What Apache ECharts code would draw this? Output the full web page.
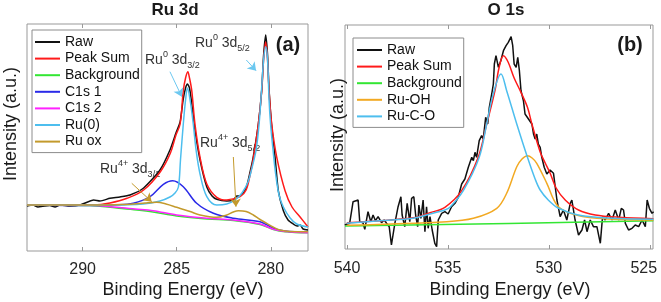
<!DOCTYPE html>
<html>
<head>
<meta charset="utf-8">
<script src="https://cdn.jsdelivr.net/npm/echarts@6/dist/echarts.min.js"></script>
<style>
  html, body { margin: 0; padding: 0; background: #fff; }
  #chart { width: 661px; height: 302px; }
</style>
</head>
<body>
<div id="chart"></div>
<script>
// Ru 3d panel, [binding energy (eV), intensity (a.u.)]
var ruRaw = [[292.96,45],[292.64,46],[292.38,44],[292.01,45],[291.74,45.5],[291.47,44],[291.21,46],[290.68,45],[290.14,46],
  [289.41,51],[289.08,50],[288.55,52.7],[288.02,54],[287.48,56],[286.76,63],[285.89,81],[285.36,101],[285.04,118],
  [284.82,129],[284.66,151],[284.53,163],[284.43,167],[284.32,163],[284.19,146],[284.03,121],[283.76,91],[283.40,64],
  [283.12,55],[282.87,51.7],[282.34,50],[281.99,51],[281.81,55],[281.63,55],[281.31,63],[281.10,79],[280.94,93],
  [280.66,127],[280.48,161],[280.38,196],[280.27,216],[280.17,196],[280.09,161],[279.96,127],[279.77,93.7],
  [279.60,60.3],[279.33,40.3],[279.08,31],[278.80,27],[278.60,25],[278.44,26],[278.28,22],[278.02,21]];
var ruPeakSum = [[292.96,46],[289.41,46],[288.55,48],[287.64,52.7],[286.76,61],[285.87,79.3],[285.34,97.7],[285.04,116],
  [284.82,127],[284.65,160.3],[284.53,173],[284.41,179.3],[284.32,173],[284.20,160.3],[284.03,127],[283.76,93.7],
  [283.40,67],[282.87,53.7],[282.34,51],[281.63,54.3],[281.31,61],[281.10,76],[280.94,91],[280.66,127],[280.48,160.3],
  [280.38,191],[280.27,209],[280.17,191],[280.09,160.3],[279.95,127],[279.68,93.7],[279.24,60.3],[278.87,44],
  [278.44,34],[278.02,24]];
var ruBackground = [[292.96,46],[289.61,45.5],[288.19,43],[287.11,41],[286.26,39],[285.00,35],[283.40,32],[281.99,30.5],
  [280.57,26.5],[279.86,21.5],[279.24,19.3],[278.02,18.2]];
var ruC1s1 = [[292.96,46],[289.41,45.5],[288.28,46],[287.31,47.7],[286.42,54.3],[285.71,66.7],[285.21,70.3],[284.65,64.3],
  [283.94,47.7],[283.05,37.7],[281.99,32.7],[280.57,29.3],[279.86,22.7],[279.24,20],[278.02,19]];
var ruC1s2 = [[292.96,46],[289.61,45.7],[288.19,43.7],[287.22,42],[286.26,40.3],[285.00,36],[283.40,32.7],[281.99,31],
  [280.57,27],[279.86,21.7],[279.24,19.5],[278.02,18.3]];
var ruMetal = [[292.96,46],[288.55,46],[286.79,47],[285.89,50],[285.36,54],[285.09,58],[284.91,64],[284.80,91],[284.65,127],
  [284.53,151],[284.43,163],[284.29,151],[284.12,127],[283.97,101],[283.76,77],[283.40,54.3],[282.87,46],[282.34,47],
  [281.90,51],[281.53,58],[281.21,69],[281.00,83],[280.78,101],[280.62,127],[280.49,161],[280.38,191],[280.27,204.3],
  [280.17,191],[280.09,151],[280.01,127],[279.88,101],[279.74,77],[279.56,56],[279.33,44],[278.97,33],[278.62,27],[278.02,24]];
var ruOxide = [[292.96,46],[289.41,46],[288.02,46.5],[287.31,47],[286.69,48],[286.06,48.7],[285.57,47],[285.00,43.7],
  [284.29,39.5],[283.76,36],[282.87,33.7],[282.34,36],[281.99,39],[281.72,40.3],[281.31,39.5],[280.93,36],[280.57,31.5],
  [280.21,27.7],[279.88,24],[279.51,21],[278.97,19.5],[278.02,19.3]];
var ruTicks = [280, 285, 290];

// O 1s panel
var oRaw = [[540.11,24],[539.87,25.7],[539.70,47.3],[539.45,49],[539.37,27.3],[539.21,26.3],[539.12,19.7],[538.96,37.3],
  [538.82,27.3],[538.71,34],[538.59,28.3],[538.46,32.3],[538.29,26.3],[538.16,29],[538.04,25.7],[537.91,22.3],[537.80,4],
  [537.63,25.7],[537.47,42.3],[537.33,52.3],[537.27,34],[537.14,22.3],[537.02,45.7],[536.89,27.3],[536.80,50.7],
  [536.69,52.3],[536.60,34],[536.50,22.3],[536.44,44],[536.34,30.7],[536.23,49],[536.14,17.3],[536.06,42.3],[535.98,20.7],
  [535.89,32.3],[535.78,19],[535.65,5.7],[535.56,2.3],[535.48,29],[535.31,35.7],[535.15,37.3],[534.99,35],[534.82,42.3],
  [534.65,45.7],[534.49,51.7],[534.32,65],[534.16,70],[533.99,81.7],[533.82,91.7],[533.74,88.3],[533.66,96.7],
  [533.58,91.7],[533.45,108.3],[533.33,113.3],[533.25,110],[533.13,131.7],[533.03,125],[532.95,141.7],[532.83,155],
  [532.75,165],[532.70,185],[532.62,193.3],[532.50,181.7],[532.38,188.3],[532.25,198.3],[532.12,203.3],[532.01,206.7],
  [531.87,212.3],[531.79,203.3],[531.72,185],[531.62,181.7],[531.54,191.7],[531.46,178.3],[531.38,158.3],[531.26,148.3],
  [531.18,135],[531.09,136.7],[531.01,130],[530.93,131.7],[530.84,125],[530.76,115],[530.68,110],[530.60,115],
  [530.52,105],[530.43,101.7],[530.35,91.7],[530.23,81.7],[530.10,75],[529.94,79],[529.77,75.7],[529.60,49],
  [529.44,32.3],[529.28,39],[529.11,29],[528.94,45.7],[528.86,49],[528.70,29],[528.53,14],[528.36,19],[528.23,29],
  [528.11,17.3],[527.95,29],[527.79,22.3],[527.62,22.3],[527.45,5.7],[527.34,32.3],[527.21,29],[527.04,35.7],
  [526.87,29],[526.71,39],[526.54,29],[526.41,40.7],[526.30,39],[526.21,25.7],[526.05,19],[525.88,20.7],[525.72,24],
  [525.55,22.3],[525.38,29],[525.22,22.3],[525.13,49],[525.02,40.7],[524.89,35.7],[524.81,37.3]];
var oPeakSum = [[540.01,26.3],[536.72,31.3],[535.89,36.3],[535.15,41.7],[534.32,58.3],[533.50,91.7],[533.08,125],
  [532.67,158.3],[532.47,181],[532.25,193.3],[532.02,187],[531.72,171],[531.42,158.3],[531.06,141.7],[530.84,125],
  [530.43,97],[530.18,86],[529.94,76],[529.64,61],[529.19,49],[528.53,39],[527.70,34],[526.54,31.7],[524.82,30.3]];
var oBackground = [[540.10,23],[532.00,25.6],[524.82,28.2]];
var oRuOH = [[540.01,23.7],[535.06,27.3],[533.74,30.7],[532.58,40.7],[532.09,55.7],[531.59,82.3],[531.33,90],
  [531.06,93.3],[530.83,91],[530.60,85.7],[530.10,65.7],[529.60,44],[528.94,35.7],[527.62,30.7],[524.82,29]];
var oRuCO = [[540.01,25.7],[538.38,28.3],[536.72,30.7],[535.89,35],[535.15,39],[534.90,41.7],[534.24,58.3],
  [533.45,91.7],[533.08,125],[532.77,154],[532.37,175],[532.09,158.3],[531.59,125],[531.06,91.7],[530.68,70],
  [530.43,59],[530.03,49],[529.54,41],[528.55,34],[526.86,30.7],[524.82,29.7]];
var oTicks = [525, 530, 535, 540];

var FONT = '"Liberation Sans", Arial, sans-serif';
var chart = echarts.init(document.getElementById('chart'), null, { renderer: 'canvas' });

function bottomAxis(grid, lo, hi, ticks, margin, edgeValue) {
  return {
    gridIndex: grid, type: 'value', min: lo, max: hi, inverse: true, position: 'bottom',
    axisLine: { show: false },
    axisTick: { show: true, inside: true, length: 4, lineStyle: { color: '#999' }, customValues: ticks },
    axisLabel: {
      customValues: ticks, margin: margin, fontSize: 16, color: '#262626', fontFamily: FONT, hideOverlap: false,
      // keep the label at the right edge inside the picture, as the original does
      formatter: function (v) { return v === edgeValue ? '{edge|' + v + '}' : '{n|' + v + '}'; },
      rich: {
        n: { fontSize: 16, color: '#262626', fontFamily: FONT },
        edge: { fontSize: 16, color: '#262626', fontFamily: FONT, padding: [0, 12, 0, 0] }
      }
    },
    splitLine: { show: false }
  };
}
function topAxis(grid, lo, hi, ticks) {
  return {
    gridIndex: grid, type: 'value', min: lo, max: hi, inverse: true, position: 'top',
    axisLine: { show: false },
    axisTick: { show: true, inside: true, length: 4, lineStyle: { color: '#999' }, customValues: ticks },
    axisLabel: { show: false },
    splitLine: { show: false }
  };
}
function curve(name, data, color, x, y, smooth, extra) {
  var s = {
    name: name, type: 'line', xAxisIndex: x, yAxisIndex: y, data: data,
    symbol: 'none', smooth: smooth, lineStyle: { width: 1.5, color: color }, itemStyle: { color: color }
  };
  if (extra) s.markLine = extra;
  return s;
}
function arrows(color, pairs) {
  return {
    silent: true, symbol: ['none', 'arrow'], symbolSize: 8, animation: false,
    label: { show: false }, lineStyle: { color: color, width: 1, type: 'solid' },
    data: pairs.map(function (p) { return [{ coord: p[0] }, { coord: p[1] }]; })
  };
}

var cyan = '#4dbeee', gold = '#c39a2c';
var rich = {
  b: { fontSize: 14, lineHeight: 20, fontFamily: FONT, color: '#333', verticalAlign: 'middle' },
  sup: { fontSize: 9, lineHeight: 9, fontFamily: FONT, color: '#333', verticalAlign: 'top' },
  sub: { fontSize: 9, lineHeight: 9, fontFamily: FONT, color: '#333', verticalAlign: 'bottom' }
};
function note(x, y, text) {
  return { type: 'text', x: x, y: y, style: { text: text, rich: rich, verticalAlign: 'middle', fill: '#333' } };
}
function plain(x, y, text, size, weight, rot) {
  return {
    type: 'text', x: x, y: y, rotation: rot || 0,
    style: { text: text, font: (weight || 'normal') + ' ' + size + 'px ' + FONT, fill: '#1a1a1a', align: 'center', verticalAlign: 'middle' }
  };
}

var legendBase = {
  orient: 'vertical', icon: 'rect', itemWidth: 25, itemHeight: 2, itemGap: 0.6,
  borderColor: '#8c8c8c', borderWidth: 1, backgroundColor: '#fff',
  textStyle: { fontSize: 14, lineHeight: 16, color: '#111', fontFamily: FONT },
  selectedMode: false
};

chart.setOption({
  animation: false,
  grid: [
    { left: 27, top: 24, width: 281, height: 227, show: true, borderColor: '#999', borderWidth: 1, outerBoundsMode: 'none', containLabel: false },
    { left: 345, top: 25, width: 308, height: 224, show: true, borderColor: '#999', borderWidth: 1, outerBoundsMode: 'none', containLabel: false }
  ],
  xAxis: [
    bottomAxis(0, 278.02, 292.96, ruTicks, 11, null), topAxis(0, 278.02, 292.96, ruTicks),
    bottomAxis(1, 524.84, 540.1, oTicks, 12, 525), topAxis(1, 524.84, 540.1, oTicks)
  ],
  yAxis: [
    { gridIndex: 0, type: 'value', min: 0, max: 227, show: false },
    { gridIndex: 1, type: 'value', min: 0, max: 224, show: false }
  ],
  legend: [
    Object.assign({}, legendBase, { left: 32, top: 30, padding: [4, 2, 3, 3],
      data: ['Raw', 'Peak Sum', 'Background', 'C1s 1', 'C1s 2', 'Ru(0)', 'Ru ox'] }),
    Object.assign({}, legendBase, { left: 353, top: 38, padding: [4, 2, 3, 4],
      data: ['Raw', 'Peak Sum', 'Background', 'Ru-OH', 'Ru-C-O'] })
  ],
  series: [
    curve('Raw', ruRaw, '#111', 0, 0, 0.2),
    curve('Peak Sum', ruPeakSum, '#ff1a1a', 0, 0, 0.35),
    curve('Background', ruBackground, '#33e633', 0, 0, 0.35),
    curve('C1s 1', ruC1s1, '#2a2ae8', 0, 0, 0.35),
    curve('C1s 2', ruC1s2, '#ff22ff', 0, 0, 0.35),
    curve('Ru(0)', ruMetal, cyan, 0, 0, 0.35,
      arrows('#6cc8f0', [[[285.36, 179.3], [284.73, 154.3]], [[281.30, 191], [280.78, 180.3]]])),
    curve('Ru ox', ruOxide, gold, 0, 0, 0.35,
      arrows(gold, [[[287.39, 67.7], [286.33, 49.3]], [[281.99, 94], [281.85, 44.3]]])),
    curve('Raw', oRaw, '#111', 2, 1, false),
    curve('Peak Sum', oPeakSum, '#ff1a1a', 2, 1, 0.35),
    curve('Background', oBackground, '#33e633', 2, 1, false),
    curve('Ru-OH', oRuOH, '#f2a922', 2, 1, 0.35),
    curve('Ru-C-O', oRuCO, cyan, 2, 1, 0.35)
  ],
  graphic: [
    plain(175, 10, 'Ru 3d', 17, 'bold'),
    plain(506, 10, 'O 1s', 17, 'bold'),
    plain(288, 45, '(a)', 20, 'bold'),
    plain(630, 45, '(b)', 20, 'bold'),
    plain(183, 290, 'Binding Energy (eV)', 18),
    plain(510, 290, 'Binding Energy (eV)', 18),
    plain(11, 124, 'Intensity (a.u.)', 18, 'normal', Math.PI / 2),
    plain(338, 135, 'Intensity (a.u.)', 18, 'normal', Math.PI / 2),
    note(195, 43, '{b|Ru}{sup|0}{b| 3d}{sub|5/2}'),
    note(145, 60, '{b|Ru}{sup|0}{b| 3d}{sub|3/2}'),
    note(200, 143, '{b|Ru}{sup|4+}{b| 3d}{sub|5/2}'),
    note(100, 169, '{b|Ru}{sup|4+}{b| 3d}{sub|3/2}')
  ]
});
</script>
</body>
</html>
